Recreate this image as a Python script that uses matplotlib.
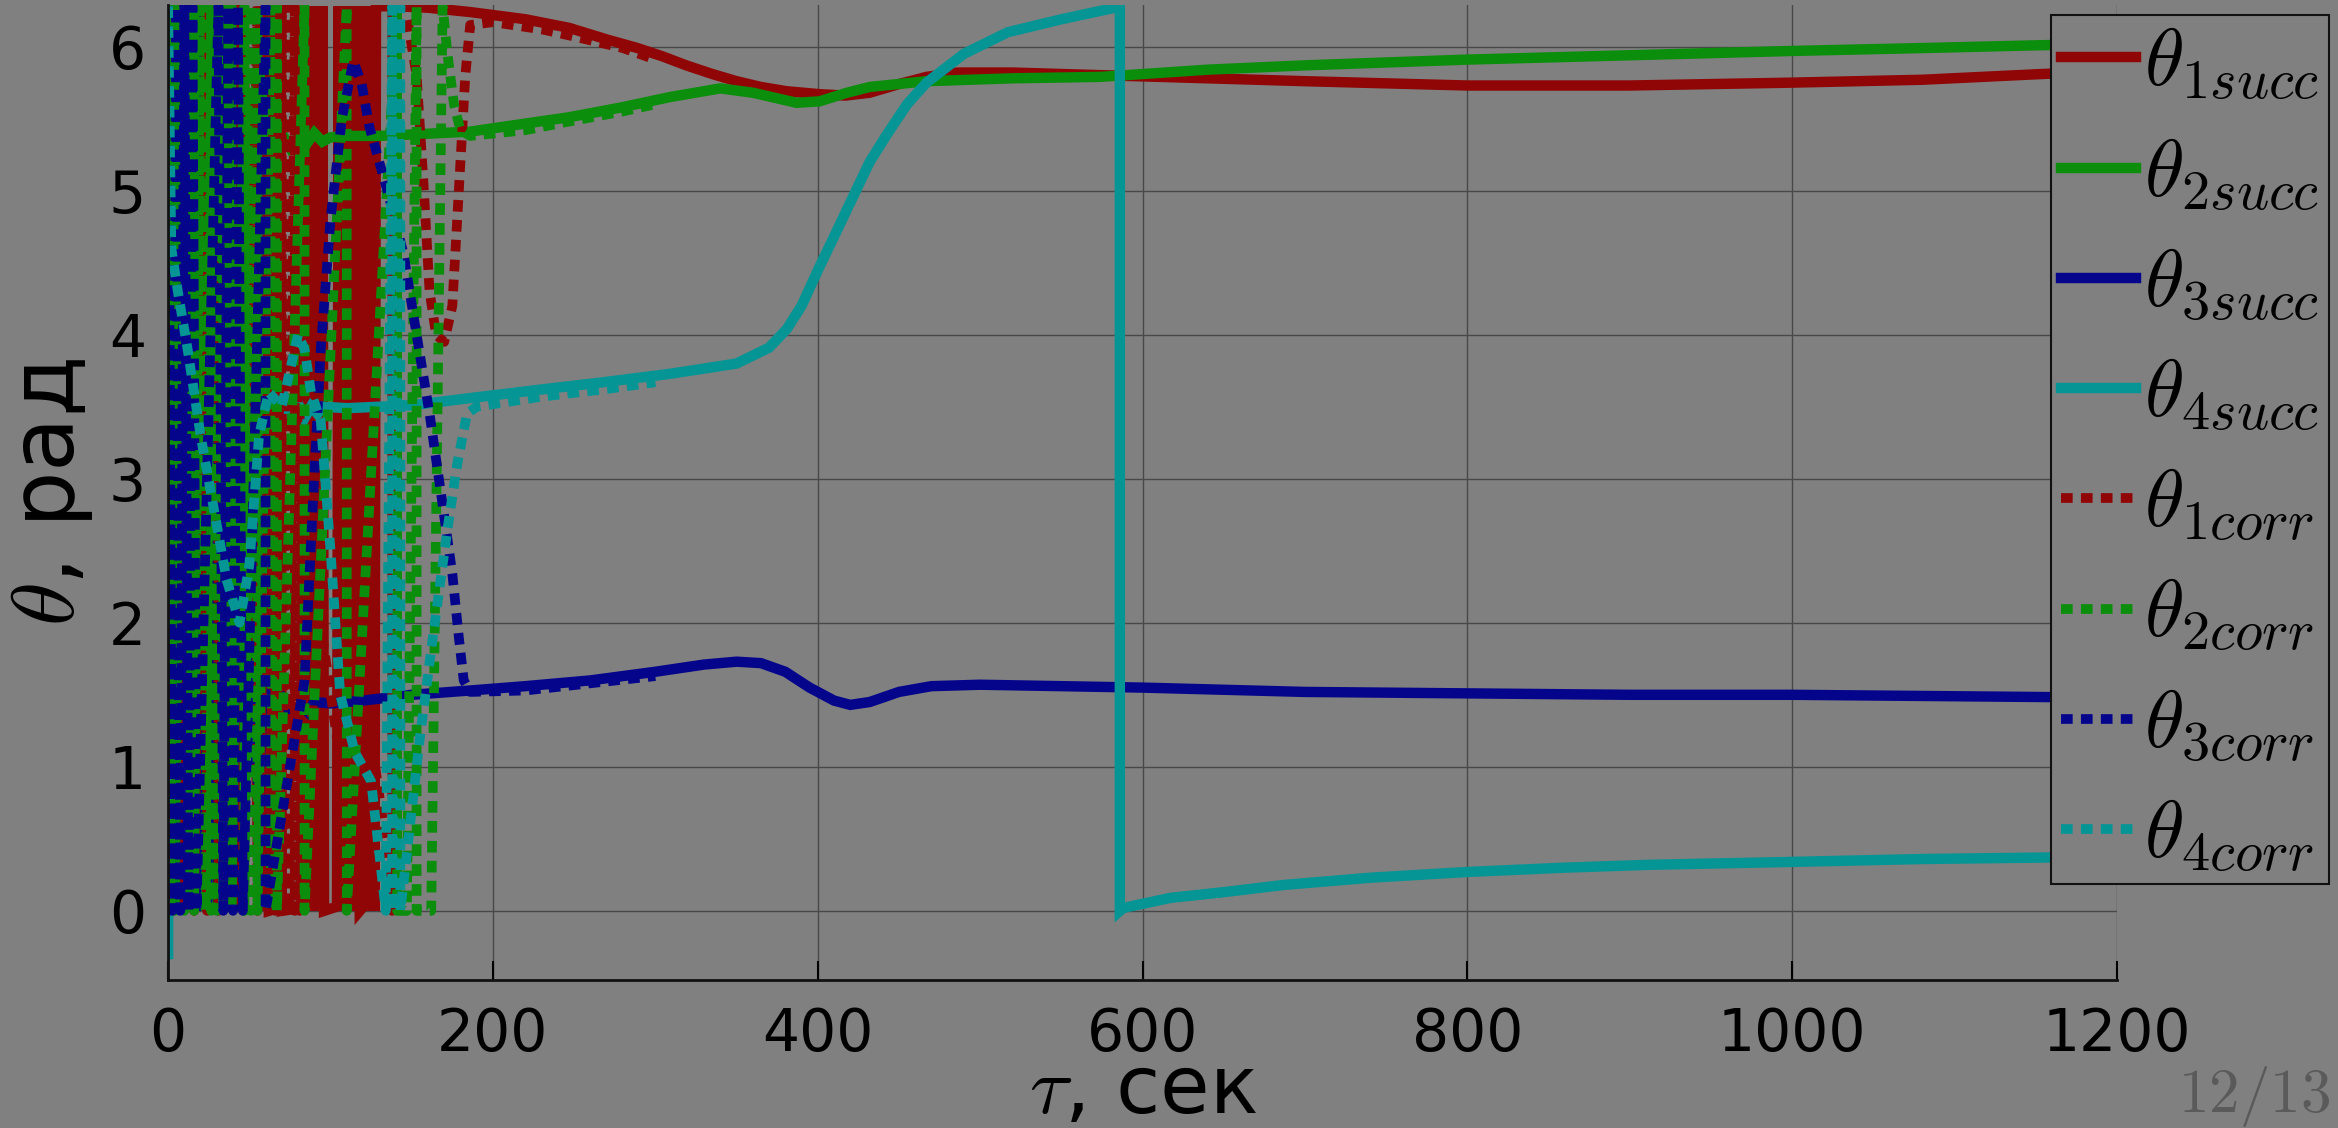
import matplotlib
matplotlib.use('Agg')
import matplotlib.pyplot as plt

plt.rcParams['mathtext.fontset'] = 'cm'
plt.rcParams['font.family'] = ['DejaVu Sans']

BG = '#808080'
RED, GREEN, BLUE, CYAN = '#900505', '#0b8e0b', '#05058c', '#069595'

# (t, theta) samples, rad; angles are wrapped into [0, 2pi]
THETA1_SUCC = [(0, 3.0), (6, 0.0), (6, 6.28), (13, 0.0), (13, 6.28), (20, 0.0), (20, 6.28),
               (27, 0.0), (27, 6.28), (34, 0.0), (34, 6.28), (40, 0.0), (40, 6.28), (46, 0.0),
               (46, 6.28), (56, 0.0), (57, 6.28), (58, 0.0), (59, 6.28), (60, 0.0), (61, 6.28),
               (62, 0.0), (68, 0.02), (69, 6.28), (70, 0.0), (82, 0.02), (83, 6.28), (84, 0.0),
               (85, 6.28), (86, 0.0), (87, 6.28), (88, 0.0), (89, 6.28), (90, 0.0), (91, 6.28),
               (92, 0.0), (93, 6.28), (94, 0.0), (95, 6.28), (96, 0.0), (104, 0.03), (105, 6.28),
               (106, 0.0), (107, 6.28), (108, 0.0), (109, 6.28), (110, 0.0), (111, 6.28),
               (112, 0.0), (113, 6.28), (114, 0.0), (115, 6.28), (116, 0.0), (117, 6.28),
               (118, 0.0), (121, 0.04), (122, 6.28), (123, 0.0), (124, 6.28), (125, 0.0),
               (126, 6.28), (127, 0.0), (128, 6.28), (140, 6.28), (160, 6.27), (186, 6.24),
               (220, 6.19), (247, 6.13), (270, 6.05), (289, 5.99), (305, 5.93), (319, 5.87),
               (335, 5.81), (350, 5.76), (365, 5.72), (381, 5.69), (401, 5.67), (417, 5.66),
               (432, 5.68), (450, 5.74), (467, 5.79), (486, 5.82), (520, 5.82), (580, 5.80),
               (640, 5.78), (700, 5.76), (800, 5.73), (900, 5.73), (1000, 5.75), (1080, 5.77),
               (1154, 5.81), (1200, 5.83)]

THETA2_SUCC = [(0, 4.2), (2, 6.28), (2, 0.0), (8, 6.28), (8, 0.0), (14, 6.28), (14, 0.0),
               (18, 6.28), (18, 0.0), (22, 6.28), (22, 0.0), (26, 6.28), (26, 0.0), (30, 6.28),
               (30, 0.0), (35, 6.28), (35, 0.0), (41, 6.28), (41, 0.0), (50, 5.3), (52, 5.45),
               (54, 5.7), (56, 5.5), (58, 5.62), (60, 5.4), (64, 5.35), (70, 5.4), (75, 5.3),
               (80, 5.37), (85, 5.32), (90, 5.4), (95, 5.34), (100, 5.37), (110, 5.38),
               (130, 5.38), (150, 5.39), (186, 5.41), (247, 5.51), (280, 5.58), (309, 5.65),
               (340, 5.71), (360, 5.68), (387, 5.61), (401, 5.62), (418, 5.68), (432, 5.72),
               (467, 5.76), (520, 5.78), (574, 5.79), (640, 5.84), (700, 5.87), (800, 5.91),
               (900, 5.94), (1000, 5.97), (1080, 5.99), (1154, 6.01), (1200, 6.02)]

THETA3_SUCC = [(0, 1.6), (2, 0.0), (2, 6.28), (7, 0.0), (7, 6.28), (12, 0.0), (12, 6.28),
               (17, 0.0), (17, 6.28), (24, 0.0), (24, 6.28), (31, 0.0), (31, 6.28), (38, 0.0),
               (38, 6.28), (42, 5.5), (45, 3.0), (48, 1.8), (53, 1.2), (56, 0.8), (58, 1.52),
               (62, 1.5), (66, 1.46), (70, 1.48), (74, 1.4), (78, 1.36), (82, 1.42), (86, 1.38),
               (90, 1.45), (100, 1.44), (120, 1.46), (150, 1.5), (186, 1.53), (220, 1.56),
               (260, 1.6), (300, 1.66), (330, 1.71), (350, 1.73), (365, 1.72), (380, 1.66),
               (395, 1.55), (410, 1.46), (420, 1.43), (432, 1.45), (450, 1.52), (470, 1.56),
               (500, 1.57), (550, 1.56), (600, 1.55), (700, 1.52), (800, 1.51), (900, 1.5),
               (1000, 1.5), (1100, 1.49), (1200, 1.48)]

THETA4_SUCC = [(0, -0.3), (0.6, 6.28), (2, 5.2), (4, 4.5), (10, 4.1), (18, 3.6), (26, 3.0),
               (34, 2.5), (42, 2.1), (47, 1.9), (50, 2.5), (53, 3.3), (56, 3.8), (60, 3.5),
               (64, 3.6), (68, 3.42), (72, 3.55), (76, 3.44), (80, 3.52), (84, 3.42), (88, 3.5),
               (92, 3.45), (96, 3.5), (110, 3.49), (130, 3.5), (150, 3.51), (186, 3.56),
               (230, 3.62), (268, 3.67), (310, 3.73), (350, 3.8), (370, 3.91), (381, 4.04),
               (390, 4.2), (401, 4.47), (410, 4.68), (418, 4.87), (432, 5.2), (442, 5.38),
               (455, 5.6), (467, 5.75), (490, 5.95), (517, 6.1), (550, 6.19), (583, 6.27),
               (586, 6.28), (586, 0.0), (588, 0.02), (617, 0.09), (650, 0.13), (687, 0.18),
               (740, 0.23), (800, 0.27), (860, 0.3), (913, 0.32), (1000, 0.34), (1080, 0.36),
               (1154, 0.37), (1200, 0.38)]

THETA1_CORR = [(0, 2.5), (9, 6.28), (9, 0.0), (16, 6.28), (16, 0.0), (24, 6.28), (24, 0.0),
               (31, 6.28), (31, 0.0), (37, 6.28), (37, 0.0), (44, 6.28), (44, 0.0), (55, 6.28),
               (55, 0.0), (66, 6.28), (66, 0.0), (70, 6.28), (70, 0.0), (74, 6.28), (74, 0.0),
               (78, 6.28), (78, 0.0), (81, 6.28), (81, 0.0), (90, 1.6), (95, 1.9), (104, 1.2),
               (115, 1.0), (125, 1.2), (135, 0.4), (138, 0.0), (138, 6.28), (146, 6.28),
               (153, 5.8), (157, 5.1), (161, 4.3), (165, 4.0), (170, 3.95), (175, 4.2),
               (179, 5.0), (183, 5.8), (186, 6.15), (200, 6.17), (230, 6.12), (250, 6.07),
               (280, 5.99), (300, 5.91)]

THETA2_CORR = [(0, 1.0), (4, 6.28), (4, 0.0), (10, 6.28), (10, 0.0), (16, 6.28), (16, 0.0),
               (19.5, 6.28), (19.5, 0.0), (23, 6.28), (23, 0.0), (26.5, 6.28), (26.5, 0.0),
               (30, 6.28), (30, 0.0), (34, 6.28), (34, 0.0), (39, 6.28), (39, 0.0), (47, 6.28),
               (47, 0.0), (51, 6.28), (51, 0.0), (55, 6.28), (55, 0.0), (63, 6.28), (63, 0.0),
               (67, 6.28), (67, 0.0), (84, 6.28), (84, 0.0), (110, 6.28), (110, 0.0),
               (141, 6.28), (141, 0.0), (147, 0.0), (153, 6.28), (153, 0.0), (162, 0.0),
               (169, 6.28), (172, 5.95), (176, 5.6), (180, 5.42), (186, 5.38), (220, 5.42),
               (247, 5.48), (280, 5.55), (300, 5.6)]

THETA3_CORR = [(0, 6.28), (2.5, 0.0), (5, 6.28), (7.5, 0.0), (10, 6.28), (12.5, 0.0),
               (15, 6.28), (17.5, 0.0), (31, 6.28), (34, 0.0), (37, 6.28), (40, 0.0),
               (43, 6.28), (46, 0.0), (60, 6.28), (60, 0.0), (84, 1.6), (89, 2.8), (94, 3.9),
               (100, 4.8), (107, 5.5), (114, 5.9), (119, 5.75), (124, 5.44), (135, 5.0),
               (145, 4.56), (153, 4.0), (161, 3.45), (168, 2.9), (175, 2.34), (179, 1.9),
               (182, 1.6), (186, 1.52), (220, 1.53), (260, 1.58), (300, 1.63)]

THETA4_CORR = [(0, 6.28), (2, 4.6), (6, 4.3), (12, 3.9), (20, 3.3), (28, 2.8), (36, 2.3),
               (44, 2.0), (50, 2.4), (56, 3.3), (62, 3.6), (70, 3.5), (76, 3.8), (80, 4.0),
               (84, 3.9), (88, 3.6), (94, 3.4), (100, 2.5), (106, 1.5), (115, 1.1), (125, 0.9),
               (134, 0.0), (138, 6.28), (138, 0.0), (143, 6.28), (143, 0.0), (150, 0.7),
               (155, 1.2), (163, 1.9), (172, 2.65), (178, 3.1), (184, 3.45), (190, 3.5),
               (230, 3.57), (268, 3.62), (300, 3.67)]

SUCC = [THETA1_SUCC, THETA2_SUCC, THETA3_SUCC, THETA4_SUCC]
CORR = [THETA1_CORR, THETA2_CORR, THETA3_CORR, THETA4_CORR]
COLORS = [RED, GREEN, BLUE, CYAN]
LABELS = [r'$\theta_{%d%s}$' % (i, s) for s in ('succ', 'corr') for i in (1, 2, 3, 4)]

X_TICKS = [0, 200, 400, 600, 800, 1000, 1200]
Y_TICKS = [0, 1, 2, 3, 4, 5, 6]


def unzip(points):
    return [p[0] for p in points], [p[1] for p in points]


fig = plt.figure(figsize=(23.38, 11.28), dpi=100, facecolor=BG)
ax = fig.add_axes([0.0719, 0.1312, 0.8336, 0.8645], facecolor=BG)

handles = []
for pts, c in zip(SUCC, COLORS):
    t, th = unzip(pts)
    ln, = ax.plot(t, th, color=c, lw=7.5, solid_joinstyle='miter')
    handles.append(ln)
for pts, c in zip(CORR, COLORS):
    t, th = unzip(pts)
    ln, = ax.plot(t, th, color=c, lw=7, linestyle=(0, (1.2, 0.85)))
    handles.append(ln)

ax.set_xlim(0, 1200)
ax.set_ylim(-0.48, 6.29)
ax.set_xticks(X_TICKS)
ax.set_yticks(Y_TICKS)
ax.grid(True, color='#484848', linewidth=1.0)
ax.set_axisbelow(True)
for side in ('top', 'right'):
    ax.spines[side].set_visible(False)
for side in ('left', 'bottom'):
    ax.spines[side].set_linewidth(2)
    ax.spines[side].set_color('#111111')
ax.tick_params(axis='x', direction='in', length=14, width=1.5, labelsize=42, pad=19)
ax.tick_params(axis='y', direction='in', length=14, width=1.5, labelsize=42, pad=16)

ax.set_xlabel(r'$\tau$, сек', fontsize=58, labelpad=-8)
ax.set_ylabel(r'$\theta$, рад', fontsize=64, labelpad=10)

leg = ax.legend(handles, LABELS, loc='upper right',
                bbox_to_anchor=(2329 / 2338, 1 - 15 / 1128),
                bbox_transform=fig.transFigure, fontsize=58, frameon=True,
                fancybox=False, borderpad=0.12, handlelength=0.93,
                handletextpad=0.1, labelspacing=0.40, borderaxespad=0)
leg.get_frame().set_facecolor(BG)
leg.get_frame().set_edgecolor('#111111')
leg.get_frame().set_linewidth(1.5)
leg.get_frame().set_alpha(1)

fig.text(2178 / 2338, 1 - 1112 / 1128, r'$\mathrm{12/13}$', fontsize=44,
         color='#5a5a5a', va='baseline')

fig.savefig('out.png', dpi=100, facecolor=BG)
